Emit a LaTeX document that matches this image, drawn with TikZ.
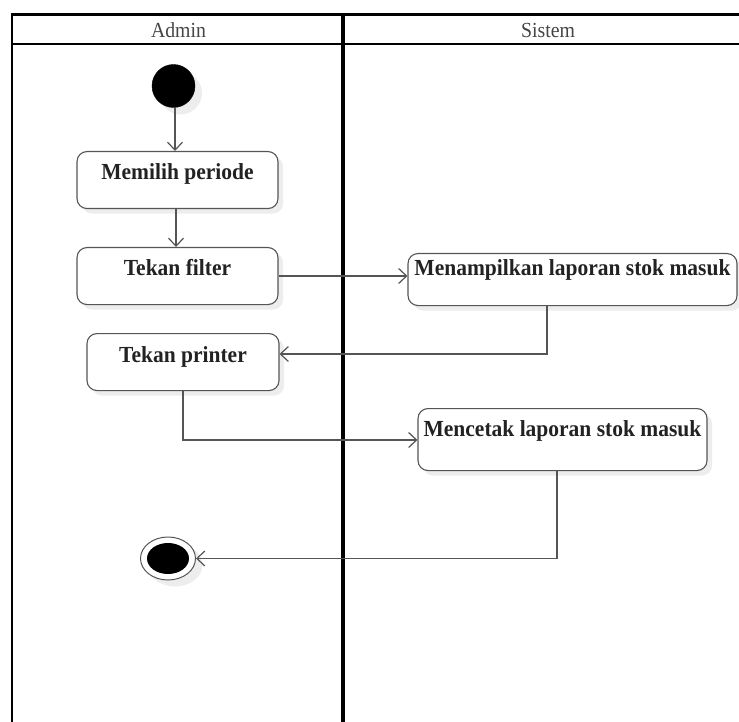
\documentclass[tikz,border=0pt]{standalone}
\usepackage{fontspec}
\setmainfont{Liberation Serif}
\newfontfamily\actfont[FakeStretch=0.935]{Liberation Serif}
\newfontfamily\headfont[FakeStretch=0.92]{Liberation Serif}
\usetikzlibrary{arrows.meta,shadows,shapes.geometric}
\definecolor{linegray}{HTML}{555555}
\definecolor{textgray}{HTML}{222222}
\definecolor{headgray}{HTML}{444444}
\definecolor{shadowgray}{HTML}{EDEDED}
\begin{document}
\begin{tikzpicture}[x=1pt,y=-1pt,
  lane/.style={draw=black,line width=3.2pt},
  laneedge/.style={draw=black,line width=2.6pt},
  lanehead/.style={font=\headfont\fontsize{21.5}{23}\selectfont,text=headgray},
  action/.style={draw=linegray,line width=1.1pt,rounded corners=10pt,fill=white,
    font=\actfont\bfseries\fontsize{23}{25}\selectfont,text=textgray,
    inner xsep=0pt,inner ysep=0pt,
    drop shadow={shadow xshift=5pt,shadow yshift=-5pt,fill=shadowgray,opacity=1}},
  startnode/.style={circle,fill=black,draw=black,minimum size=43pt,inner sep=0pt,
    drop shadow={shadow xshift=7pt,shadow yshift=-7pt,fill=shadowgray,opacity=1}},
  flow/.style={draw=linegray,line width=1.2pt,
    -{Straight Barb[length=8pt,width=15pt,line width=1.2pt]}}
]
\useasboundingbox (0,0) rectangle (739,722);

% swimlanes
\draw[laneedge] (12,722) -- (12,14.5) -- (739,14.5);
\draw[laneedge] (12,44) -- (739,44);
\draw[lane] (343,14.5) -- (343,722);
\node[lanehead] (hadmin) at (178.5,30) {Admin};
\node[lanehead] (hsistem) at (548,30) {Sistem};

% start and end states
\node[startnode] (start) at (173.5,86) {};
\fill[shadowgray] (175,565) ellipse [x radius=27.5pt,y radius=21.5pt];
\node[draw=linegray,line width=1pt,fill=white,ellipse,minimum width=55pt,minimum height=43pt,inner sep=0pt] (final) at (168,558.5) {};
\fill[black] (final.center) ellipse [x radius=21pt,y radius=15.5pt];

% actions (text sits near the top of each box)
\node[action,minimum width=201pt,text height=28pt,text depth=29pt,anchor=north] (memilih) at (177.5,151) {Memilih periode};
\node[action,minimum width=201pt,text height=28pt,text depth=29pt,anchor=north] (filter) at (177.5,247) {Tekan filter};
\node[action,minimum width=329pt,text height=21.5pt,text depth=30.5pt,anchor=north] (tampil) at (572.5,253) {Menampilkan laporan stok masuk};
\node[action,minimum width=192pt,text height=28.5pt,text depth=28.5pt,anchor=north] (printer) at (183,333) {Tekan printer};
\node[action,minimum width=289pt,text height=27.5pt,text depth=34.5pt,anchor=north] (cetak) at (562.5,408) {Mencetak laporan stok masuk};

% control flow
\draw[flow] (start.south -| 175,0) -- (memilih.north -| 175,0);
\draw[flow] (memilih.south -| 176,0) -- (filter.north -| 176,0);
\draw[flow] (filter.east |- 0,276) -- (tampil.west |- 0,276);
\draw[flow] (tampil.south -| 547,0) |- (printer.east |- 0,354);
\draw[flow] (printer.south -| 183,0) |- (cetak.west |- 0,440);
\draw[flow] (cetak.south -| 557,0) |- (final.east);
\end{tikzpicture}
\end{document}
